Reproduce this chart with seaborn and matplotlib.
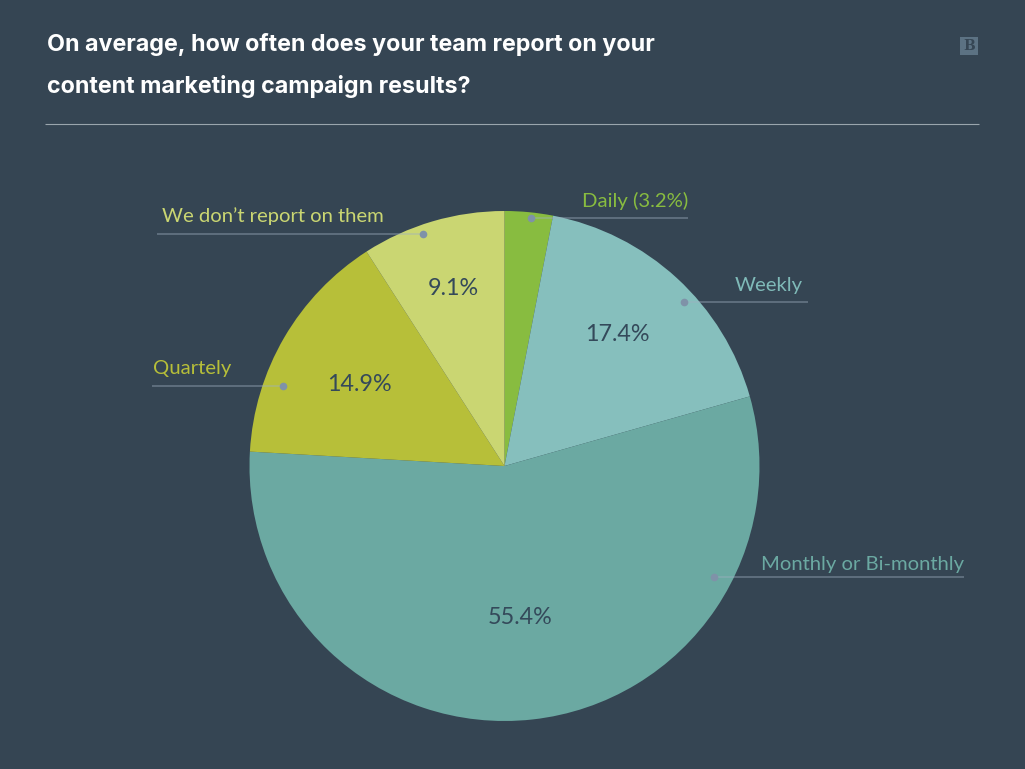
import matplotlib
matplotlib.use("Agg")
import matplotlib.pyplot as plt
from matplotlib.patches import Rectangle
import seaborn as sns

categories = ["Daily (3.2%)", "Weekly", "Monthly or Bi-monthly", "Quartely", "We don\u2019t report on them"]
values = [3.05, 17.55, 55.3, 15.0, 9.1]
# Percentages as printed on the chart
value_labels = ["", "17.4%", "55.4%", "14.9%", "9.1%"]
colors = ["#88bc40", "#86bfbd", "#6ba9a2", "#b7bf39", "#cad672"]
label_colors = ["#88bc40", "#7fbab8", "#6ba9a2", "#b7bf39", "#cad672"]
title_lines = ["On average, how often does your team report on your",
               "content marketing campaign results?"]

BG = "#354553"
W, H = 1025, 769
sns.set_theme(style="dark", rc={"figure.facecolor": BG, "axes.facecolor": BG, "savefig.facecolor": BG})
plt.rcParams["font.family"] = ["Lato", "DejaVu Sans"]

fig = plt.figure(figsize=(W / 100, H / 100), dpi=100)

# Pie axes: centre (504, 466), radius 255 px
cx, cy, r = 504.5, 466, 255
ax = fig.add_axes([(cx - r) / W, 1 - (cy + r) / H, 2 * r / W, 2 * r / H])
ax.pie(values, colors=sns.color_palette(colors), startangle=90, counterclock=False,
       radius=1, wedgeprops={"linewidth": 0})
ax.set_xlim(-1, 1)
ax.set_ylim(-1, 1)
ax.set_aspect("equal")
ax.axis("off")

# Overlay in pixel coordinates
ov = fig.add_axes([0, 0, 1, 1])
ov.set_xlim(0, W)
ov.set_ylim(H, 0)
ov.axis("off")
ov.patch.set_alpha(0)

for y, line in zip([51, 93], title_lines):
    ov.text(47, y, line, color="white", fontsize=16.75, fontweight="bold", family="Inter",
            va="baseline", ha="left")
ov.plot([45, 979], [124, 124], color="#9aa5ad", lw=0.8, solid_capstyle="butt")

# Logo
ov.add_patch(Rectangle((960, 37), 18, 18, facecolor="#5c7283", edgecolor="none"))
ov.text(969, 46, "B", color="#364654", fontsize=10, fontweight="bold", family="DejaVu Serif",
        ha="center", va="center")

# Leader lines and labels: (x0, x1, y, text x, text baseline y, ha)
leaders = [
    (531, 688, 218, 688, 207, "right"),
    (684, 808, 302, 803, 291, "right"),
    (714, 964, 577, 964, 570, "right"),
    (283, 152, 386, 153, 374, "left"),
    (423, 157, 234, 162, 222, "left"),
]
for (x0, x1, y, tx, ty, ha), name, col in zip(leaders, categories, label_colors):
    ov.plot([x0, x1], [y, y], color="#9fb0c0", alpha=0.42, lw=1.3, solid_capstyle="butt")
    ov.plot([x0], [y], "o", color="#7f92a8", ms=5.5, mew=0)
    ov.text(tx, ty, name, color=col, fontsize=14.6, va="baseline", ha=ha)

# Value labels (centre x, baseline y)
pos = [None, (617.5, 341), (520, 624), (359, 391), (453, 295)]
for p, lab in zip(pos, value_labels):
    if p:
        ov.text(p[0], p[1], lab, color="#34495a", fontsize=16.8, va="baseline", ha="center")

fig.savefig("out.png", dpi=100)
